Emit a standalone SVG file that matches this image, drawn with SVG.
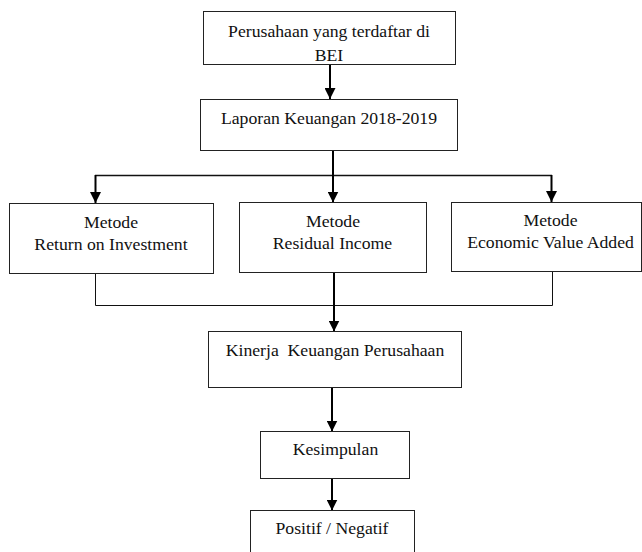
<svg xmlns="http://www.w3.org/2000/svg" width="642" height="552" viewBox="0 0 642 552">
<defs>
<marker id="ah" markerUnits="userSpaceOnUse" markerWidth="11" markerHeight="12" refX="5.5" refY="11" orient="0" viewBox="0 0 11 12">
<path d="M0,0 L11,0 L5.5,11 Z" fill="#000"/>
</marker>
<style>
.box{fill:#fff;stroke:#222;stroke-width:1}
.t{font-family:"Liberation Serif","Times New Roman",serif;font-size:17.7px;fill:#111;text-anchor:middle;white-space:pre}
.c{fill:none;stroke:#000;stroke-width:2}
.thin{fill:none;stroke:#111;stroke-width:1}
</style>
</defs>
<rect width="642" height="552" fill="#fff"/>
<g id="connectors">
<line class="c" x1="330" y1="65" x2="330" y2="99" marker-end="url(#ah)"/>
<line class="c" x1="333" y1="151" x2="333" y2="175"/>
<line class="thin" x1="95" y1="175.5" x2="552" y2="175.5" style="stroke-width:1.5"/>
<line class="c" x1="95.5" y1="175" x2="95.5" y2="203" marker-end="url(#ah)"/>
<line class="c" x1="333" y1="175" x2="333" y2="202.5" marker-end="url(#ah)"/>
<line class="c" x1="551.5" y1="175" x2="551.5" y2="202" marker-end="url(#ah)"/>
<polyline class="thin" points="95.5,273.5 95.5,305.5 552.5,305.5 552.5,271.5"/>
<line class="c" x1="334" y1="273" x2="334" y2="331.5" marker-end="url(#ah)"/>
<line class="c" x1="332" y1="388" x2="332" y2="431.5" marker-end="url(#ah)"/>
<line class="c" x1="332" y1="478.5" x2="332" y2="510.5" marker-end="url(#ah)"/>
</g>
<g id="n1"><rect class="box" x="203.5" y="11.5" width="252" height="53"/>
<text class="t" x="329" y="37">Perusahaan yang terdaftar di</text>
<text class="t" x="329" y="60.5">BEI</text></g>
<g id="n2"><rect class="box" x="200.5" y="99.5" width="257" height="51"/>
<text class="t" x="329" y="123.5">Laporan Keuangan 2018-2019</text></g>
<g id="n3"><rect class="box" x="9.5" y="203.5" width="204" height="70"/>
<text class="t" x="111" y="227.5">Metode</text>
<text class="t" x="111" y="249.5">Return on Investment</text></g>
<g id="n4"><rect class="box" x="239.5" y="202.5" width="187" height="70"/>
<text class="t" x="333" y="226.5">Metode</text>
<text class="t" x="332.5" y="248.5">Residual Income</text></g>
<g id="n5"><rect class="box" x="451.5" y="202.5" width="190" height="69"/>
<text class="t" x="550.5" y="225.5">Metode</text>
<text class="t" x="550.5" y="247.5">Economic Value Added</text></g>
<g id="n6"><rect class="box" x="208.5" y="331.5" width="253" height="56"/>
<text class="t" x="335" y="356">Kinerja  Keuangan Perusahaan</text></g>
<g id="n7"><rect class="box" x="260.5" y="431.5" width="149" height="47"/>
<text class="t" x="335.5" y="455">Kesimpulan</text></g>
<g id="n8"><rect class="box" x="250.5" y="510.5" width="164" height="50"/>
<text class="t" x="332" y="534">Positif / Negatif</text></g>
</svg>
